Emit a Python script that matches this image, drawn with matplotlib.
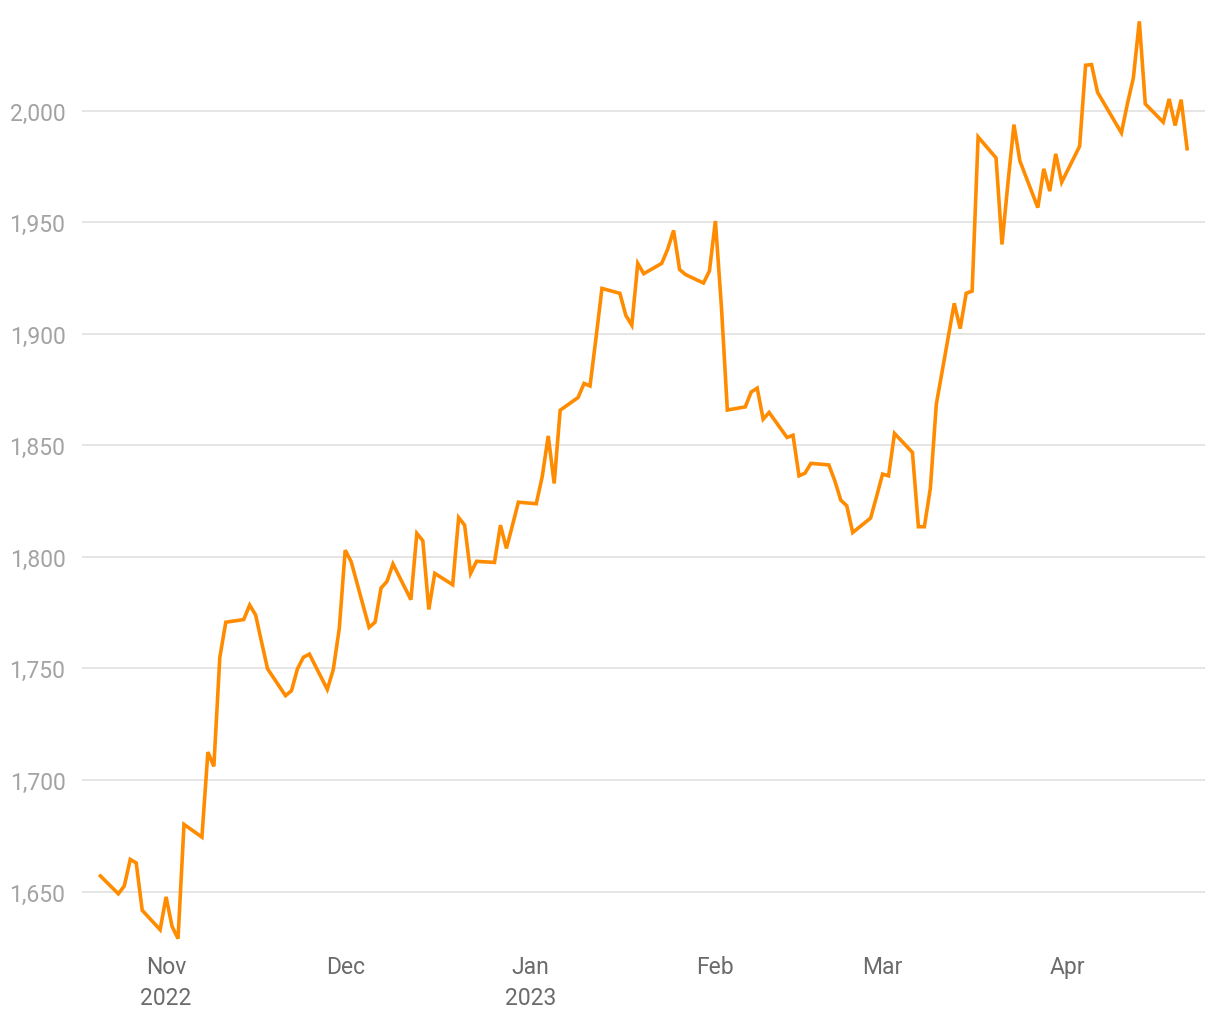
import matplotlib

matplotlib.use("Agg")
import matplotlib.pyplot as plt
import pandas as pd

# dias úteis de 21/10/2022 a 21/04/2023 (sem a Sexta-feira Santa)
inicio = "2022-10-21"
fim = "2023-04-21"
feriados = ["2023-04-07"]

preco = [
    # out
    1657.0, 1649.0, 1652.5, 1664.4, 1662.8, 1641.6, 1632.9,
    # nov
    1647.6, 1634.4, 1628.9, 1680.1, 1674.4, 1712.5, 1706.1, 1755.0, 1770.7,
    1771.9, 1778.4, 1773.9, 1761.7, 1749.8, 1737.8, 1740.0, 1749.8, 1755.0,
    1756.4, 1740.6, 1749.5, 1767.7,
    # dez
    1803.0, 1797.8, 1768.4, 1770.7, 1786.0, 1789.0, 1796.8, 1780.8, 1810.5,
    1807.2, 1776.4, 1792.6, 1787.5, 1817.6, 1814.2, 1792.6, 1798.0, 1797.5,
    1814.2, 1803.8, 1814.0, 1824.5,
    # jan
    1823.8, 1836.0, 1854.2, 1832.9, 1865.7, 1871.4, 1877.7, 1876.6, 1898.0,
    1920.3, 1918.1, 1908.2, 1903.8, 1931.5, 1926.9, 1931.5, 1937.8, 1946.3,
    1928.8, 1926.5, 1922.7, 1928.1,
    # fev
    1950.5, 1912.4, 1865.8, 1867.2, 1873.9, 1875.6, 1861.7, 1864.7, 1853.5,
    1854.5, 1836.3, 1837.5, 1841.9, 1841.2, 1834.1, 1825.4, 1822.9, 1810.9,
    1817.4, 1827.1,
    # mar
    1837.1, 1836.3, 1855.3, 1846.8, 1813.5, 1813.5, 1830.7, 1868.4, 1913.6,
    1902.3, 1918.1, 1919.1, 1988.2, 1978.8, 1940.0, 1967.6, 1993.7, 1977.4,
    1956.5, 1973.9, 1963.9, 1980.6, 1967.9,
    # abr
    1984.0, 2020.3, 2020.6, 2008.2, 1990.0, 2003.0, 2014.6, 2040.0, 2003.0,
    1994.8, 2005.2, 1993.3, 2004.9, 1982.9,
]

y_ticks = [1650, 1700, 1750, 1800, 1850, 1900, 1950, 2000]
x_ticks = ["2022-11-01", "2022-12-01", "2023-01-01", "2023-02-01",
           "2023-03-01", "2023-04-01"]
x_labels = ["Nov\n2022", "Dec", "Jan\n2023", "Feb", "Mar", "Apr"]

plt.rcParams["font.family"] = ["Roboto", "DejaVu Sans"]

datas = pd.bdate_range(inicio, fim)
datas = datas[~datas.isin(pd.to_datetime(feriados))]

fig = plt.figure(figsize=(12.2, 10.2), dpi=100)
ax = fig.add_axes([82 / 1220, 1 - 945 / 1020, (1205 - 82) / 1220, 945 / 1020])

ax.plot(datas, preco, color="#ff8c00", lw=2.6, solid_joinstyle="miter")

ax.set_xlim(pd.Timestamp("2022-10-17 22:00"), pd.Timestamp("2023-04-24"))
ax.set_ylim(1626.5, 2050)

ax.set_yticks(y_ticks)
ax.set_yticklabels([f"{v:,}" for v in y_ticks])
ax.set_xticks(pd.to_datetime(x_ticks))
ax.set_xticklabels(x_labels, linespacing=1.45)

ax.grid(axis="y", color="#e3e3e3", lw=1.3)
ax.set_axisbelow(True)
for s in ax.spines.values():
    s.set_visible(False)
ax.tick_params(axis="y", length=0, pad=12, labelsize=16.5, labelcolor="#a3a3a3")
ax.tick_params(axis="x", length=0, pad=8, labelsize=16.5, labelcolor="#6b6b6b")

fig.savefig("out.png", dpi=100)
